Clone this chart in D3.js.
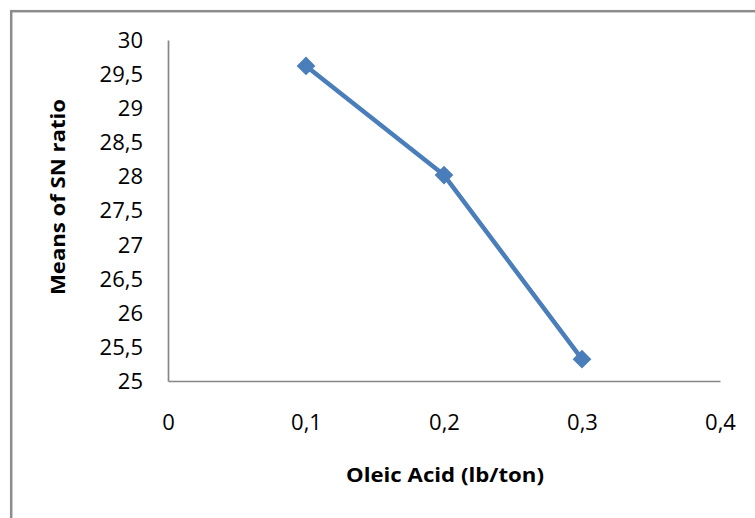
<!DOCTYPE html>
<html><head><meta charset="utf-8">
<script src="https://cdn.jsdelivr.net/npm/d3@7"></script>
<style>body{margin:0;background:#fff}svg{display:block}</style>
</head><body>
<script>
const xValues = [0.1, 0.2, 0.3];
const yValues = [29.62, 28.02, 25.32];
const xTicks = [0, 0.1, 0.2, 0.3, 0.4];
const yTicks = [25, 25.5, 26, 26.5, 27, 27.5, 28, 28.5, 29, 29.5, 30];
const xTitle = "Oleic Acid (lb/ton)";
const yTitle = "Means of SN ratio";

(function () {
const W = 755, H = 518;
const svg = d3.select("body").append("svg").attr("width", W).attr("height", H);
svg.append("rect").attr("x", 11.2).attr("y", 11.2).attr("width", W + 20).attr("height", H + 20)
  .attr("fill", "#fff").attr("stroke", "#8c8c8c").attr("stroke-width", 2.5);

const pl = 168, pr = 720, pt = 40, pb = 381;
const x = d3.scaleLinear().domain([0, 0.4]).range([pl, pr]);
const y = d3.scaleLinear().domain([25, 30]).range([pb, pt]);
const fmt = d => String(d).replace(".", ",");
const font = "Open Sans, Liberation Sans, sans-serif";

const xAxis = svg.append("g").attr("transform", `translate(0,${pb})`)
  .call(d3.axisBottom(x).tickValues(xTicks).tickFormat(fmt).tickSize(0));
const yAxis = svg.append("g").attr("transform", `translate(${pl},0)`)
  .call(d3.axisLeft(y).tickValues(yTicks).tickFormat(fmt).tickSize(0).tickPadding(25));
[xAxis, yAxis].forEach(a => {
  a.attr("font-size", null).attr("font-family", null);
  a.select(".domain").attr("stroke", "#868686").attr("stroke-width", 1.7);
  a.selectAll("text").attr("font-family", font).attr("font-size", 22).attr("fill", "#000");
});
xAxis.selectAll("text").attr("y", 49).attr("dy", 0);
yAxis.selectAll("text").attr("dy", "0.34em");

const line = d3.line().x((d, i) => x(xValues[i])).y(d => y(d));
svg.append("path").datum(yValues).attr("d", line).attr("fill", "none")
  .attr("stroke", "#4a7ebb").attr("stroke-width", 4.5).attr("stroke-linejoin", "round");
svg.selectAll(".m").data(yValues).enter().append("path").attr("class", "m")
  .attr("transform", (d, i) => `translate(${x(xValues[i])},${y(d)}) rotate(45)`)
  .attr("d", d3.symbol().type(d3.symbolSquare).size(175))
  .attr("fill", "#4a7ebb");

svg.append("text").attr("x", 445).attr("y", 482).attr("text-anchor", "middle")
  .attr("font-family", font).attr("font-weight", "bold").attr("font-size", 20)
  .attr("textLength", 198).attr("lengthAdjust", "spacingAndGlyphs").text(xTitle);
svg.append("text").attr("transform", "translate(65,197) rotate(-90)").attr("text-anchor", "middle")
  .attr("font-family", font).attr("font-weight", "bold").attr("font-size", 20)
  .attr("textLength", 196).attr("lengthAdjust", "spacingAndGlyphs").text(yTitle);
})();
</script>
</body></html>
